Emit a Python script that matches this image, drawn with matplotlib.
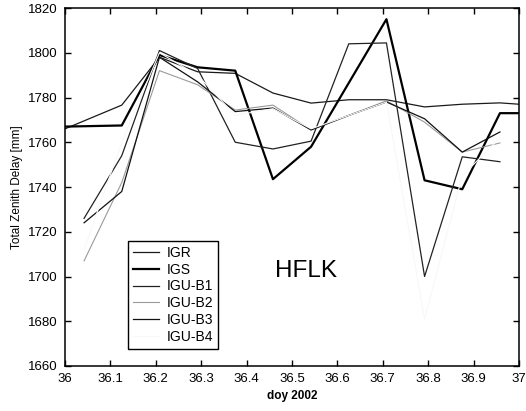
import numpy as np
import matplotlib.pyplot as plt

plt.rcParams['font.family'] = ['Liberation Sans', 'DejaVu Sans']

# epochs (day of year 2002)
t_ext = [36.0, 36.125, 36.208, 36.292, 36.375, 36.458, 36.542, 36.625, 36.708, 36.792, 36.875, 36.958, 37.0]
t_igu = [36.042, 36.125, 36.208, 36.292, 36.375, 36.458, 36.542, 36.625, 36.708, 36.792, 36.875, 36.958]

# zenith delays [mm]
igr = [1766, 1776.6, 1798, 1791.5, 1790.8, 1782, 1777.5, 1779, 1779, 1775.8, 1777, 1777.6, 1777]
igs = [1767, 1767.5, 1799, 1793.5, 1792, 1743.5, 1758, 1786.5, 1815, 1743, 1739, 1773, 1773]
igu_b1 = [1726, 1754, 1801, 1793, 1760, 1757, 1760.5, 1804, 1804.4, 1700, 1753.5, 1751.3]
igu_b2 = [1707, 1742, 1792, 1785.7, 1774.4, 1776.6, 1765.5, 1772, 1778.5, 1769, 1755.6, 1759.7]
igu_b3 = [1724, 1738, 1798, 1787, 1773.7, 1775.3, 1765.5, 1772, 1778, 1770.5, 1755.6, 1764.6]
igu_b4 = [1712, 1760, 1800, 1790, 1772, 1775, 1766, 1772, 1778, 1681, 1745, 1762]

fig = plt.figure(figsize=(5.26, 4.11), dpi=100)
ax = fig.add_axes([0.1236, 0.1095, 0.8631, 0.871])

ax.plot(t_ext, igr, color='#1a1a1a', lw=0.9, label='IGR')
ax.plot(t_ext, igs, color='black', lw=1.6, label='IGS')
ax.plot(t_igu, igu_b1, color='#222222', lw=0.9, label='IGU-B1')
ax.plot(t_igu, igu_b2, color='#9a9a9a', lw=0.8, label='IGU-B2')
ax.plot(t_igu, igu_b3, color='#111111', lw=0.9, label='IGU-B3')
ax.plot(t_igu, igu_b4, color='#f8f8f8', lw=0.8, label='IGU-B4')

ax.set_xlim(36, 37)
ax.set_ylim(1660, 1820)
ax.set_xticks(np.arange(36, 37.01, 0.1))
ax.set_xticklabels(['36', '36.1', '36.2', '36.3', '36.4', '36.5', '36.6', '36.7', '36.8', '36.9', '37'])
ax.set_yticks(np.arange(1660, 1821, 20))
ax.tick_params(direction='in', length=4, width=1, top=True, right=True,
               labelsize=9.5, pad=5)
for s in ax.spines.values():
    s.set_linewidth(1.1)

ax.set_xlabel('doy 2002', fontsize=8.5, fontweight='bold', labelpad=4)
ax.set_ylabel('Total Zenith Delay [mm]', fontsize=8.5, labelpad=4)

ax.text(36.462, 1700, 'HFLK', fontsize=17.5, va='baseline', ha='left')

leg = ax.legend(loc='upper left', bbox_to_anchor=(0.139, 0.349), fontsize=10,
                frameon=True, fancybox=False, edgecolor='black', framealpha=1,
                handlelength=1.9, handletextpad=0.5, labelspacing=0.2,
                borderpad=0.35, borderaxespad=0)
leg.get_frame().set_linewidth(1.0)

fig.savefig('out.png', dpi=100)
